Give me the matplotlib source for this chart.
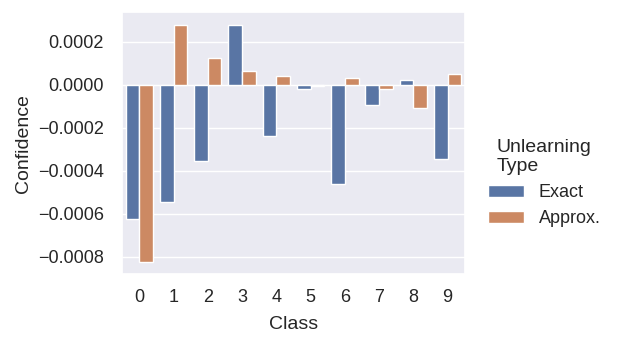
import numpy as np
import pandas as pd
import seaborn as sns
import matplotlib.pyplot as plt

classes = [0, 1, 2, 3, 4, 5, 6, 7, 8, 9]
exact = [-0.000624, -0.000547, -0.000355, 0.000278, -0.000239,
         -0.000021, -0.000463, -0.000093, 0.000020, -0.000347]
approx = [-0.000826, 0.000278, 0.000126, 0.000064, 0.000042,
          -0.000005, 0.000030, -0.000019, -0.000107, 0.000050]

df = pd.DataFrame({
    'Class': classes * 2,
    'Confidence': exact + approx,
    'Unlearning\nType': ['Exact'] * 10 + ['Approx.'] * 10,
})

sns.set_theme(style='darkgrid')
plt.rcParams['font.family'] = ['Liberation Sans', 'DejaVu Sans']

fig = plt.figure(figsize=(6.23, 3.46), dpi=100)
ax = fig.add_axes([0.196, 0.208, 0.55, 0.757])
sns.barplot(data=df, x='Class', y='Confidence', hue='Unlearning\nType', ax=ax)
ax.set_ylim(-0.00088, 0.000338)
ax.set_yticks([-0.0008, -0.0006, -0.0004, -0.0002, 0.0, 0.0002])
ax.set_yticklabels(['\u22120.0008', '\u22120.0006', '\u22120.0004', '\u22120.0002', '0.0000', '0.0002'])
ax.tick_params(axis='y', labelsize=13, length=0, pad=13)
ax.tick_params(axis='x', labelsize=13, length=0, pad=11)
ax.set_xlabel('Class', fontsize=14, labelpad=7)
ax.set_ylabel('Confidence', fontsize=14, labelpad=4)

leg = ax.legend(title='Unlearning\nType', loc='upper left', bbox_to_anchor=(0.772, 0.620),
                bbox_transform=fig.transFigure, borderaxespad=0,
                frameon=False, fontsize=13, title_fontsize=14)

fig.savefig('out.png', dpi=100)
